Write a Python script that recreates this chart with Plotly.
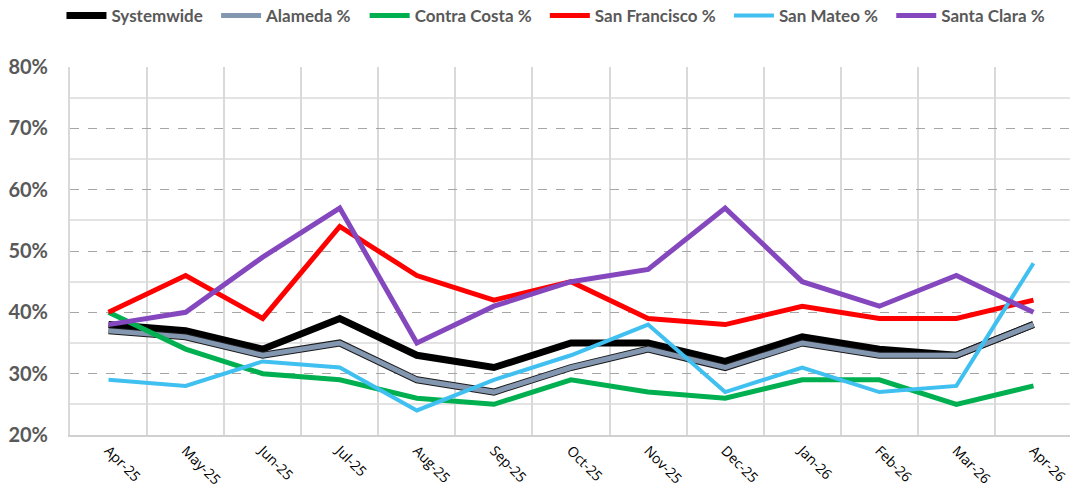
import plotly.graph_objects as go

months = ["Apr-25", "May-25", "Jun-25", "Jul-25", "Aug-25", "Sep-25", "Oct-25",
          "Nov-25", "Dec-25", "Jan-26", "Feb-26", "Mar-26", "Apr-26"]
systemwide = [38, 37, 34, 39, 33, 31, 35, 35, 32, 36, 34, 33, 38]
alameda = [37, 36, 33, 35, 29, 27, 31, 34, 31, 35, 33, 33, 38]
contra_costa = [40, 34, 30, 29, 26, 25, 29, 27, 26, 29, 29, 25, 28]
san_francisco = [40, 46, 39, 54, 46, 42, 45, 39, 38, 41, 39, 39, 42]
san_mateo = [29, 28, 32, 31, 24, 29, 33, 38, 27, 31, 27, 28, 48]
santa_clara = [38, 40, 49, 57, 35, 41, 45, 47, 57, 45, 41, 46, 40]

PAD = "\u00a0\u00a0"

def pct(v):
    return [x / 100 for x in v]

fig = go.Figure()
fig.add_trace(go.Scatter(x=months, y=pct(systemwide), name="Systemwide" + PAD, mode="lines",
                         line=dict(color="#000000", width=7)))
fig.add_trace(go.Scatter(x=months, y=pct(alameda), name="Alameda outline", mode="lines",
                         line=dict(color="#1a1a1a", width=7), showlegend=False, hoverinfo="skip"))
fig.add_trace(go.Scatter(x=months, y=pct(alameda), name="Alameda %" + PAD, mode="lines",
                         line=dict(color="#8497B0", width=5)))
fig.add_trace(go.Scatter(x=months, y=pct(contra_costa), name="Contra Costa %" + PAD, mode="lines",
                         line=dict(color="#00B050", width=5)))
fig.add_trace(go.Scatter(x=months, y=pct(san_francisco), name="San Francisco %" + PAD, mode="lines",
                         line=dict(color="#FF0000", width=5)))
fig.add_trace(go.Scatter(x=months, y=pct(san_mateo), name="San Mateo %" + PAD, mode="lines",
                         line=dict(color="#3FC0F0", width=4)))
fig.add_trace(go.Scatter(x=months, y=pct(santa_clara), name="Santa Clara %", mode="lines",
                         line=dict(color="#8447BE", width=5)))

fig.update_layout(
    width=1070, height=486,
    margin=dict(l=62, r=6, t=59, b=59, autoexpand=False),
    paper_bgcolor="white", plot_bgcolor="white",
    font=dict(family="Lato, 'Open Sans', sans-serif", color="#595959"),
    showlegend=True,
    legend=dict(orientation="h", x=0.485, xanchor="center",
                y=1.139, yref="paper", yanchor="middle",
                font=dict(size=17, color="#595959", weight="bold"),
                itemwidth=40, tracegroupgap=0, bgcolor="rgba(0,0,0,0)"),
    xaxis=dict(type="category", range=[-0.5, 12.5], tickangle=45, showgrid=True,
               tickson="boundaries", gridcolor="#D9D9D9", gridwidth=2,
               ticks="", showline=True, linecolor="#D0D0D0", linewidth=2,
               tickfont=dict(size=14, color="#000000", family="'Open Sans', sans-serif")),
    yaxis=dict(range=[0.2, 0.8], dtick=0.1, tick0=0.2, tickformat=".0%",
               showgrid=True, gridcolor="#A6A6A6", gridwidth=1, griddash="dash",
               zeroline=False, showline=True, linecolor="#D9D9D9", linewidth=2,
               ticks="", ticklabelstandoff=16,
               tickfont=dict(size=20, color="#595959", weight="bold"),
               minor=dict(tick0=0.25, dtick=0.1, showgrid=True, griddash="solid",
                          gridcolor="#E3E3E3", gridwidth=2)),
)

fig.write_html("out.html")
